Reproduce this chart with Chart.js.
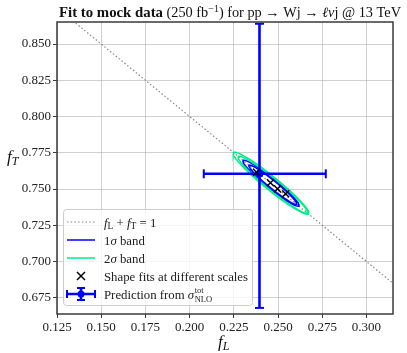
<!DOCTYPE html>
<html>
<head>
<meta charset="utf-8">
<title>Fit to mock data</title>
<style>
  html, body { margin: 0; padding: 0; background: #fff; }
  #wrap { width: 407px; height: 353px; }
</style>
</head>
<body>
<div id="wrap"><canvas id="chart"></canvas></div>
<script src="https://cdn.jsdelivr.net/npm/chart.js"></script>
<script>
// tick labels
var xTicks = [0.125, 0.150, 0.175, 0.200, 0.225, 0.250, 0.275, 0.300];
var yTicks = [0.675, 0.700, 0.725, 0.750, 0.775, 0.800, 0.825, 0.850];

// f_L + f_T = 1 (ends sit outside the axes and get clipped)
var sumLineL = [0.10, 0.35];
var sumLineT = [0.90, 0.65];

// shape fits at different scales
var fitL = [0.2378, 0.2457, 0.2497, 0.2543];
var fitT = [0.7615, 0.7543, 0.7501, 0.7467];

// prediction from sigma_NLO^tot with its error bars
var predL = [0.2395];
var predT = [0.7605];
var predLRange = [0.208, 0.277];
var predTRange = [0.668, 0.864];

// contour bands: centre, half length along (1,-1), half width along (1,1)
var bandName = ['2sigma', '2sigma', '1sigma', '1sigma'];
var bandL = [0.2460, 0.2470, 0.2460, 0.2470];
var bandT = [0.7540, 0.7530, 0.7540, 0.7530];
var bandMajor = [0.0300, 0.0275, 0.0222, 0.0190];
var bandMinor = [0.0042, 0.0036, 0.0031, 0.0024];

var BLUE = '#0000ff';
var GREEN = '#00ee88';

function ellipse(i) {
    var pts = [];
    var r2 = Math.SQRT1_2;
    for (var k = 0; k <= 80; k++) {
        var a = 2 * Math.PI * k / 80;
        var u = bandMajor[i] * Math.cos(a);
        var v = bandMinor[i] * Math.sin(a);
        pts.push({x: bandL[i] + (u + v) * r2, y: bandT[i] + (-u + v) * r2});
    }
    return pts;
}

var datasets = [];

datasets.push({
    label: 'sum',
    data: sumLineL.map(function(v, i) { return {x: v, y: sumLineT[i]}; }),
    showLine: true, borderColor: '#888', borderWidth: 1.2, borderDash: [1.5, 2.2],
    pointRadius: 0, clip: 0, order: 6
});

bandName.forEach(function(n, i) {
    datasets.push({
        label: n,
        data: ellipse(i),
        showLine: true, borderColor: n == '2sigma' ? GREEN : BLUE, borderWidth: 1.5,
        pointRadius: 0, tension: 0, clip: 0, order: 5
    });
});

// error bars
datasets.push({
    label: 'errL',
    data: predLRange.map(function(v) { return {x: v, y: predT[0]}; }),
    showLine: true, borderColor: BLUE, borderWidth: 2.6,
    pointStyle: 'line', rotation: 90, pointRadius: 4.5, pointBorderWidth: 2,
    pointBorderColor: BLUE, clip: 0, order: 3
});
datasets.push({
    label: 'errT',
    data: predTRange.map(function(v) { return {x: predL[0], y: v}; }),
    showLine: true, borderColor: BLUE, borderWidth: 2.6,
    pointStyle: 'line', rotation: 0, pointRadius: 4.5, pointBorderWidth: 2,
    pointBorderColor: BLUE, clip: 0, order: 3
});
datasets.push({
    label: 'pred',
    data: predL.map(function(v, i) { return {x: v, y: predT[i]}; }),
    pointStyle: 'circle', pointRadius: 3.5, backgroundColor: BLUE, borderColor: BLUE,
    clip: 0, order: 2
});

datasets.push({
    label: 'fits',
    data: fitL.map(function(v, i) { return {x: v, y: fitT[i]}; }),
    pointStyle: 'crossRot', pointRadius: 5, borderColor: '#000', borderWidth: 1.5,
    clip: 0, order: 1
});

// draws a list of text pieces one after another, returns the width
function rich(ctx, x, y, segs) {
    var x0 = x;
    segs.forEach(function(s) {
        ctx.font = s.f;
        ctx.fillText(s.t, x, y + (s.dy || 0));
        x += ctx.measureText(s.t).width;
    });
    return x - x0;
}

var SERIF = '"Liberation Serif", "DejaVu Serif", serif';
function F(size, style) { return (style || '') + ' ' + size + 'px ' + SERIF; }

var extras = {
    id: 'extras',
    afterDraw: function(chart) {
        var ctx = chart.ctx;
        var a = chart.chartArea;
        ctx.save();

        // frame
        ctx.strokeStyle = '#3a3a3a';
        ctx.lineWidth = 1.5;
        ctx.strokeRect(a.left, a.top, a.right - a.left, a.bottom - a.top);

        ctx.fillStyle = '#111';
        ctx.textBaseline = 'alphabetic';

        // title
        rich(ctx, 59, 17, [
            {t: 'Fit to mock data', f: F(14.8, 'bold')},
            {t: ' (250 fb', f: F(14.3)},
            {t: '\u22121', f: F(10), dy: -5.5},
            {t: ') for pp \u2192 Wj \u2192 ', f: F(14.3)},
            {t: '\u2113\u03bd', f: F(14.3, 'italic')},
            {t: 'j @ 13 TeV', f: F(14.3)}
        ]);

        // axis labels
        rich(ctx, 218, 347, [
            {t: 'f', f: F(17, 'italic')},
            {t: 'L', f: F(12, 'italic'), dy: 3}
        ]);
        rich(ctx, 7, 162, [
            {t: 'f', f: F(17, 'italic')},
            {t: 'T', f: F(12, 'italic'), dy: 3}
        ]);

        // legend
        var lx = 63, ly = 209, lw = 189, lh = 96;
        ctx.fillStyle = 'rgba(255,255,255,0.8)';
        ctx.strokeStyle = '#cccccc';
        ctx.lineWidth = 1;
        ctx.beginPath();
        ctx.roundRect(lx + 0.5, ly + 0.5, lw, lh, 3);
        ctx.fill();
        ctx.stroke();

        var hx0 = 67, hx1 = 95, tx = 104;
        var rows = [222, 240, 258, 276, 294];

        ctx.setLineDash([1.5, 2.2]);
        ctx.strokeStyle = '#888';
        ctx.lineWidth = 1.2;
        ctx.beginPath(); ctx.moveTo(hx0, rows[0]); ctx.lineTo(hx1, rows[0]); ctx.stroke();
        ctx.setLineDash([]);

        ctx.lineWidth = 1.5;
        ctx.strokeStyle = BLUE;
        ctx.beginPath(); ctx.moveTo(hx0, rows[1]); ctx.lineTo(hx1, rows[1]); ctx.stroke();
        ctx.strokeStyle = GREEN;
        ctx.beginPath(); ctx.moveTo(hx0, rows[2]); ctx.lineTo(hx1, rows[2]); ctx.stroke();

        var cx = (hx0 + hx1) / 2;
        ctx.strokeStyle = '#000';
        ctx.beginPath();
        ctx.moveTo(cx - 4, rows[3] - 4); ctx.lineTo(cx + 4, rows[3] + 4);
        ctx.moveTo(cx - 4, rows[3] + 4); ctx.lineTo(cx + 4, rows[3] - 4);
        ctx.stroke();

        ctx.strokeStyle = BLUE;
        ctx.lineWidth = 2.6;
        ctx.beginPath();
        ctx.moveTo(hx0, rows[4]); ctx.lineTo(hx1, rows[4]);
        ctx.moveTo(cx, rows[4] - 6); ctx.lineTo(cx, rows[4] + 6);
        ctx.stroke();
        ctx.lineWidth = 2;
        ctx.beginPath();
        ctx.moveTo(hx0, rows[4] - 4); ctx.lineTo(hx0, rows[4] + 4);
        ctx.moveTo(hx1, rows[4] - 4); ctx.lineTo(hx1, rows[4] + 4);
        ctx.moveTo(cx - 4, rows[4] - 6); ctx.lineTo(cx + 4, rows[4] - 6);
        ctx.moveTo(cx - 4, rows[4] + 6); ctx.lineTo(cx + 4, rows[4] + 6);
        ctx.stroke();
        ctx.fillStyle = BLUE;
        ctx.beginPath(); ctx.arc(cx, rows[4], 3.5, 0, 2 * Math.PI); ctx.fill();

        ctx.fillStyle = '#222';
        var off = 4.5;
        var fs = 12.8;
        rich(ctx, tx, rows[0] + off, [
            {t: 'f', f: F(fs, 'italic')}, {t: 'L', f: F(9.5), dy: 2.5},
            {t: ' + ', f: F(fs)},
            {t: 'f', f: F(fs, 'italic')}, {t: 'T', f: F(9.5), dy: 2.5},
            {t: ' = 1', f: F(fs)}
        ]);
        rich(ctx, tx, rows[1] + off, [
            {t: '1', f: F(fs)}, {t: '\u03c3', f: F(fs, 'italic')}, {t: ' band', f: F(fs)}
        ]);
        rich(ctx, tx, rows[2] + off, [
            {t: '2', f: F(fs)}, {t: '\u03c3', f: F(fs, 'italic')}, {t: ' band', f: F(fs)}
        ]);
        rich(ctx, tx, rows[3] + off, [
            {t: 'Shape fits at different scales', f: F(fs)}
        ]);
        var w = rich(ctx, tx, rows[4] + off, [
            {t: 'Prediction from ', f: F(fs)}, {t: '\u03c3', f: F(fs, 'italic')}
        ]);
        ctx.font = F(8.5);
        ctx.fillText('tot', tx + w + 0.5, rows[4] + off - 5.5);
        ctx.fillText('NLO', tx + w + 0.5, rows[4] + off + 3);

        ctx.restore();
    }
};

new Chart(document.getElementById('chart'), {
    type: 'scatter',
    data: {datasets: datasets},
    options: {
        responsive: true,
        maintainAspectRatio: false,
        animation: false,
        layout: {padding: {top: 22, right: 14, left: 0, bottom: 0}},
        plugins: {legend: {display: false}, tooltip: {enabled: false}},
        scales: {
            x: {
                min: 0.125, max: 0.315,
                afterBuildTicks: function(s) { s.ticks = xTicks.map(function(v) { return {value: v}; }); },
                afterFit: function(s) { s.height = 39; },
                ticks: {
                    callback: function(v) { return v.toFixed(3); },
                    font: {family: SERIF, size: 13}, color: '#222', padding: 2, maxRotation: 0
                },
                grid: {color: 'rgba(176,176,176,0.6)', tickColor: '#3a3a3a', tickLength: 4},
                border: {display: false}
            },
            y: {
                min: 0.6638, max: 0.8652,
                afterBuildTicks: function(s) { s.ticks = yTicks.map(function(v) { return {value: v}; }); },
                afterFit: function(s) { s.width = 57; },
                ticks: {
                    callback: function(v) { return v.toFixed(3); },
                    font: {family: SERIF, size: 13}, color: '#222', padding: 2
                },
                grid: {color: 'rgba(176,176,176,0.6)', tickColor: '#3a3a3a', tickLength: 4},
                border: {display: false}
            }
        }
    },
    plugins: [extras]
});
</script>
</body>
</html>
